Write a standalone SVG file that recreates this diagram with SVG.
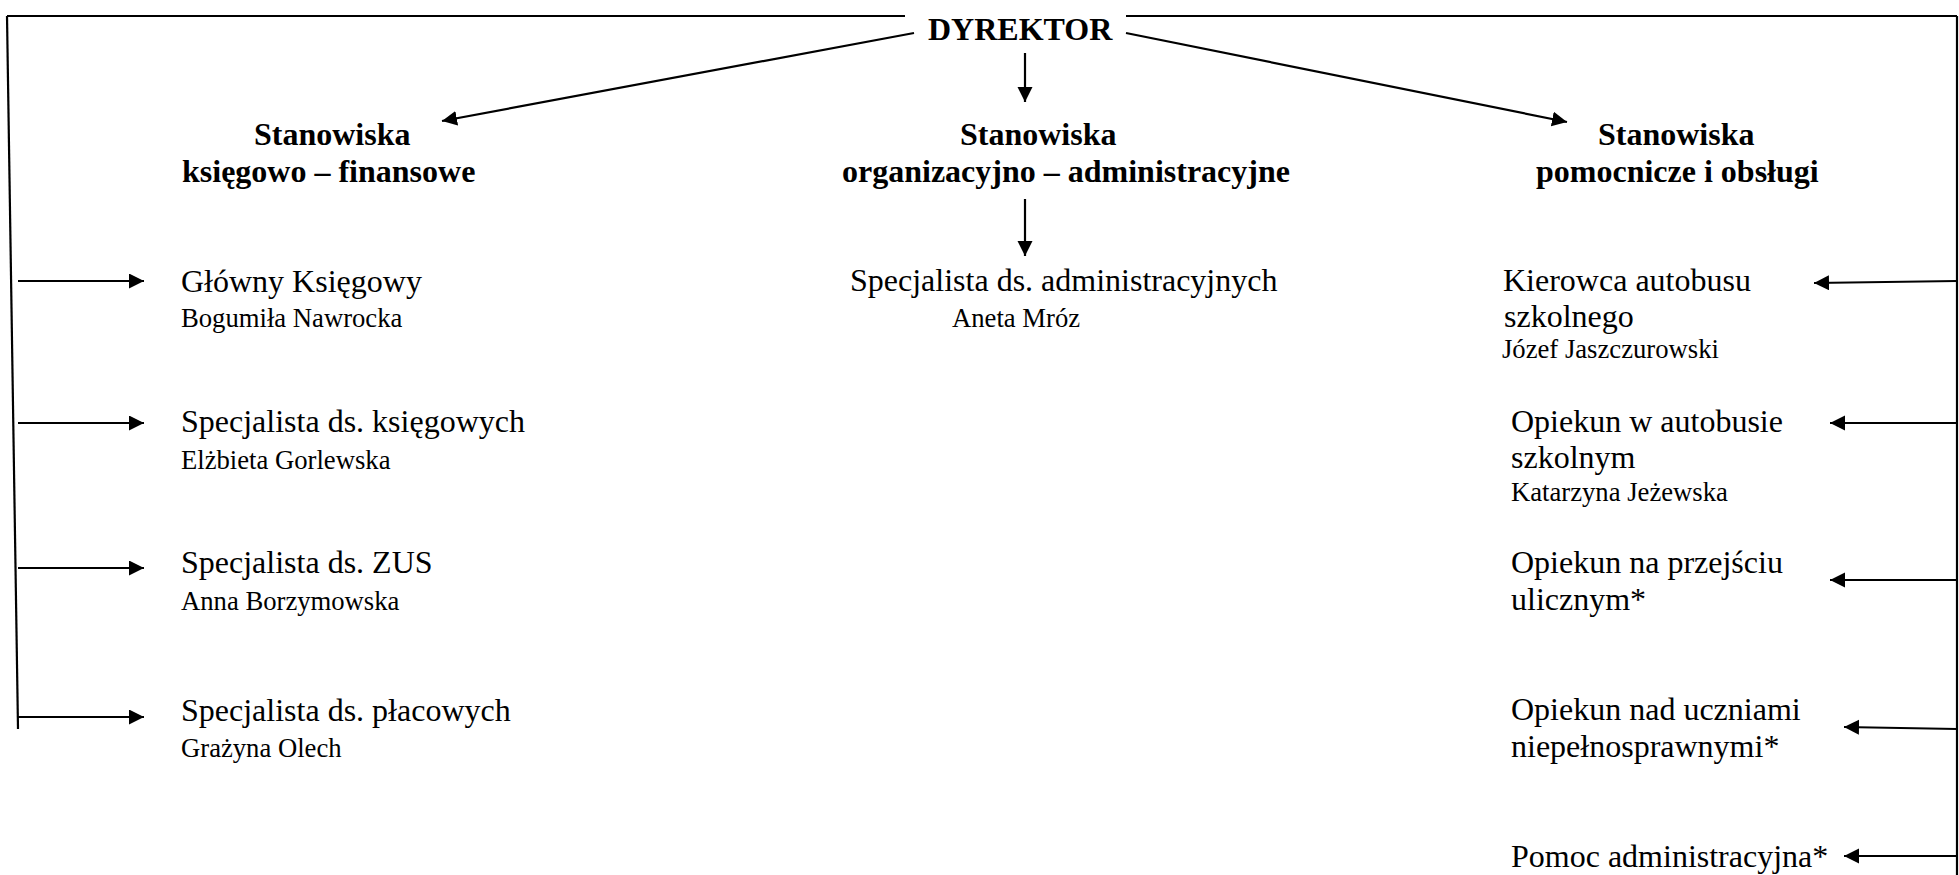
<svg xmlns="http://www.w3.org/2000/svg" width="1959" height="875" viewBox="0 0 1959 875">
<defs>
<style>
.t{font-family:"Liberation Serif","Times New Roman",serif;fill:#000}
.h{font-size:32px;font-weight:bold}
.r{font-size:32px}
.n{font-size:26.67px}
.c{stroke:#000;stroke-width:2.2;fill:none}
.ca{stroke:#000;stroke-width:2.2;fill:none;marker-end:url(#ah)}
</style>
<marker id="ah" markerUnits="userSpaceOnUse" markerWidth="16" markerHeight="16" refX="15" refY="7.5" orient="auto">
<path d="M0,0 L15,7.5 L0,15 z" fill="#000"/>
</marker>
</defs>
<rect width="1959" height="875" fill="#fff"/>
<g id="connectors">
<line class="c" x1="7" y1="16" x2="905" y2="16"/>
<line class="c" x1="1126" y1="16" x2="1957" y2="16"/>
<line class="c" x1="7" y1="16" x2="18" y2="729"/>
<line class="c" x1="1957" y1="16" x2="1957" y2="875"/>
<line class="ca" x1="914" y1="33" x2="442" y2="121"/>
<line class="ca" x1="1126" y1="33" x2="1567" y2="122"/>
<line class="ca" x1="1025" y1="53" x2="1025" y2="102"/>
<line class="ca" x1="1025" y1="199" x2="1025" y2="256"/>
<line class="ca" x1="18" y1="281" x2="144" y2="281"/>
<line class="ca" x1="18" y1="423" x2="144" y2="423"/>
<line class="ca" x1="18" y1="568" x2="144" y2="568"/>
<line class="ca" x1="18" y1="717" x2="144" y2="717"/>
<line class="ca" x1="1957" y1="281" x2="1814" y2="283"/>
<line class="ca" x1="1957" y1="423" x2="1830" y2="423"/>
<line class="ca" x1="1957" y1="580" x2="1830" y2="580"/>
<line class="ca" x1="1957" y1="729" x2="1844" y2="727"/>
<line class="ca" x1="1957" y1="856" x2="1844" y2="856"/>
</g>
<g id="dyrektor"><text class="t h" x="928" y="40">DYREKTOR</text></g>
<g id="hdr-ksiegowo"><text class="t h" x="254" y="145">Stanowiska</text><text class="t h" x="182" y="182">księgowo – finansowe</text></g>
<g id="hdr-org"><text class="t h" x="960" y="145">Stanowiska</text><text class="t h" x="842" y="182">organizacyjno – administracyjne</text></g>
<g id="hdr-pomoc"><text class="t h" x="1598" y="145">Stanowiska</text><text class="t h" x="1536" y="182">pomocnicze i obsługi</text></g>
<g id="glowny"><text class="t r" x="181" y="292">Główny Księgowy</text><text class="t n" x="181" y="327">Bogumiła Nawrocka</text></g>
<g id="ksiegowych"><text class="t r" x="181" y="432">Specjalista ds. księgowych</text><text class="t n" x="181" y="469">Elżbieta Gorlewska</text></g>
<g id="zus"><text class="t r" x="181" y="573">Specjalista ds. ZUS</text><text class="t n" x="181" y="610">Anna Borzymowska</text></g>
<g id="placowych"><text class="t r" x="181" y="721">Specjalista ds. płacowych</text><text class="t n" x="181" y="757">Grażyna Olech</text></g>
<g id="admin"><text class="t r" x="850" y="291">Specjalista ds. administracyjnych</text><text class="t n" x="952" y="327">Aneta Mróz</text></g>
<g id="kierowca"><text class="t r" x="1503" y="291">Kierowca autobusu</text><text class="t r" x="1504" y="327">szkolnego</text><text class="t n" x="1502" y="358">Józef Jaszczurowski</text></g>
<g id="opiekun-autobus"><text class="t r" x="1511" y="432">Opiekun w autobusie</text><text class="t r" x="1511" y="468">szkolnym</text><text class="t n" x="1511" y="501">Katarzyna Jeżewska</text></g>
<g id="opiekun-przejscie"><text class="t r" x="1511" y="573">Opiekun na przejściu</text><text class="t r" x="1511" y="610">ulicznym*</text></g>
<g id="opiekun-niepeln"><text class="t r" x="1511" y="720">Opiekun nad uczniami</text><text class="t r" x="1511" y="757">niepełnosprawnymi*</text></g>
<g id="pomoc-admin"><text class="t r" x="1511" y="867">Pomoc administracyjna*</text></g>
</svg>
